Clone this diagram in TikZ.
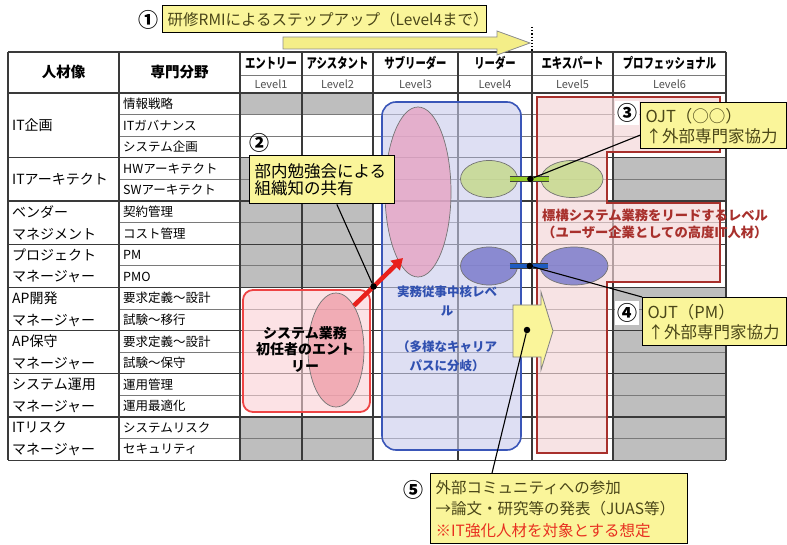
\documentclass[tikz,border=0pt]{standalone}
\usepackage{fontspec}
\newfontfamily\jp{Noto Sans CJK JP}
\newfontfamily\jpc[FakeStretch=0.74]{Noto Sans CJK JP}
\usetikzlibrary{arrows.meta,calc,shapes.geometric}
\definecolor{cellgray}{HTML}{BEBEBE}
\definecolor{gridline}{HTML}{3A3A3A}
\definecolor{thinline}{HTML}{7A7A7A}
\definecolor{noteyellow}{HTML}{FAF59A}
\definecolor{arrowyellow}{HTML}{F4EE88}
\definecolor{olivetext}{HTML}{4A4618}
\definecolor{bluebox}{HTML}{3A56B8}
\definecolor{blueboxfill}{HTML}{C9CBEC}
\definecolor{darkred}{HTML}{A8302C}
\definecolor{pinkfill}{HTML}{F3D4D6}
\definecolor{redbox}{HTML}{EE4444}
\definecolor{redboxfill}{HTML}{FAD0D4}
\definecolor{ellpink}{HTML}{E6A2C2}
\definecolor{ellsmall}{HTML}{EE9AA6}
\definecolor{ellgreen}{HTML}{C6DA8E}
\definecolor{ellblue}{HTML}{7C7CCC}
\definecolor{bargreen}{HTML}{96CC2C}
\definecolor{barblue}{HTML}{1E5CC0}
\definecolor{levelgray}{HTML}{505050}
\definecolor{bluetext}{HTML}{3050B0}
\definecolor{redtext}{HTML}{E83020}
\definecolor{arrowred}{HTML}{E8201C}
\begin{document}
\begin{tikzpicture}[x=1pt,y=-1pt,
  hdr/.style={font=\jp\bfseries\fontsize{14.5}{16}\selectfont, inner sep=0},
  lvname/.style={font=\jpc\bfseries\fontsize{14}{16}\selectfont, inner sep=0},
  lvnum/.style={font=\jp\fontsize{11}{13}\selectfont, text=levelgray, inner sep=0},
  grp/.style={font=\jp\fontsize{14}{21.6}\selectfont, anchor=west, align=left, inner sep=0},
  sublab/.style={font=\jp\fontsize{12.5}{14}\selectfont, anchor=west, inner sep=0},
  thickgrid/.style={draw=gridline, line width=1.1},
  thingrid/.style={draw=thinline, line width=0.7},
  note/.style={draw=black, line width=1.4, fill=noteyellow, anchor=north west, align=left, inner xsep=5, inner ysep=0},
  cnum/.style={font=\jp\bfseries\fontsize{20}{20}\selectfont, inner sep=0},
  ell/.style={ellipse, draw=black!55, line width=0.7, inner sep=0},
  dotc/.style={circle, fill=black, inner sep=0, minimum size=6.5},
  lead/.style={draw=black, line width=1.1},
]
\useasboundingbox (0,0) rectangle (787,545);
\fill[white] (0,0) rectangle (787,545);

% ---- gray cells
\fill[cellgray] (240,93) rectangle (373,114.6);
\fill[cellgray] (240,157.8) rectangle (373,287.4);
\fill[cellgray] (240,417) rectangle (373,460.2);
\fill[cellgray] (613,157.8) rectangle (726,201);
\fill[cellgray] (613,287.4) rectangle (726,460.2);

% ---- grid
\foreach \k in {1,2,4,6,8,10,12,14,16} \draw[thingrid] (119,{93+21.6*\k}) -- (726,{93+21.6*\k});
\draw[thingrid] (240,75) -- (726,75);
\foreach \k in {0,3,5,7,9,11,13,15,17} \draw[thickgrid] (8,{93+21.6*\k}) -- (726,{93+21.6*\k});
\draw[thickgrid] (8,52) -- (726,52);
\foreach \x in {8,119,240,302,373,458,532,613,726} \draw[thickgrid] (\x,52) -- (\x,460.2);

% ---- header
\node[hdr] (h1) at (63.5,72.5) {人材像};
\node[hdr] (h2) at (179.5,72.5) {専門分野};
\node[lvname] (l1) at (271,63.5) {エントリー};
\node[lvname] (l2) at (337.5,63.5) {アシスタント};
\node[lvname] (l3) at (415.5,63.5) {サブリーダー};
\node[lvname] (l4) at (495,63.5) {リーダー};
\node[lvname] (l5) at (572.5,63.5) {エキスパート};
\node[lvname] (l6) at (669.5,63.5) {プロフェッショナル};
\node[lvnum] (n1) at (271,84) {Level1};
\node[lvnum] (n2) at (337.5,84) {Level2};
\node[lvnum] (n3) at (415.5,84) {Level3};
\node[lvnum] (n4) at (495,84) {Level4};
\node[lvnum] (n5) at (572.5,84) {Level5};
\node[lvnum] (n6) at (669.5,84) {Level6};

% ---- group labels
\node[grp] (g1) at (12,125.4) {IT企画};
\node[grp] (g2) at (12,179.4) {ITアーキテクト};
\node[grp] (g3) at (12,222.6) {ベンダー\\マネジメント};
\node[grp] (g4) at (12,265.8) {プロジェクト\\マネージャー};
\node[grp] (g5) at (12,309) {AP開発\\マネージャー};
\node[grp] (g6) at (12,352.2) {AP保守\\マネージャー};
\node[grp] (g7) at (12,395.4) {システム運用\\マネージャー};
\node[grp] (g8) at (12,438.6) {ITリスク\\マネージャー};

% ---- sub labels
\foreach \t [count=\i] in {情報戦略,ITガバナンス,システム企画,HWアーキテクト,SWアーキテクト,契約管理,コスト管理,PM,PMO,要求定義～設計,試験～移行,要求定義～設計,試験～保守,運用管理,運用最適化,システムリスク,セキュリティ}
  \node[sublab] (s\i) at (123,{93+21.6*(\i-0.5)}) {\t};

% ---- regions
\filldraw[fill=pinkfill, fill opacity=0.65, draw=darkred, line width=1.6]
  (537,97) -- (720,97) -- (720,152) -- (607,152) -- (607,203) -- (720,203) -- (720,282) -- (607,282) -- (607,453) -- (537,453) -- cycle;
\filldraw[fill=blueboxfill, fill opacity=0.6, draw=bluebox, line width=1.6, rounded corners=14] (382,102) rectangle (521,450);
\filldraw[fill=redboxfill, fill opacity=0.6, draw=redbox, line width=1.8, rounded corners=10] (243,290) rectangle (370,412);

% ---- ellipses
\node[ell, fill=ellpink, fill opacity=0.78, minimum width=66, minimum height=170] (ebig) at (418,192) {};
\node[ell, fill=ellsmall, fill opacity=0.75, minimum width=56, minimum height=114] (esmall) at (336,350) {};
\node[ell, fill=ellgreen, fill opacity=0.85, minimum width=57, minimum height=37] (gA) at (489,179) {};
\node[ell, fill=ellgreen, fill opacity=0.85, minimum width=62, minimum height=37] (gB) at (572,179) {};
\node[ell, fill=ellblue, fill opacity=0.85, minimum width=57, minimum height=38] (bA) at (489,266) {};
\node[ell, fill=ellblue, fill opacity=0.85, minimum width=68, minimum height=38] (bB) at (574,266) {};

% ---- bars between ellipses
\draw[line width=6.5, black!75] ($(gA.east)+(-8,0)$) -- ($(gB.west)+(8,0)$);
\draw[line width=4.5, bargreen] ($(gA.east)+(-8,0)$) -- ($(gB.west)+(8,0)$);
\node[dotc] (gd) at ($(gA.east)!0.55!(gB.west)$) {};
\draw[line width=6.5, black!75] ($(bA.east)+(-8,0)$) -- ($(bB.west)+(8,0)$);
\draw[line width=4.5, barblue] ($(bA.east)+(-8,0)$) -- ($(bB.west)+(8,0)$);
\node[dotc] (bd) at ($(bA.east)!0.55!(bB.west)$) {};

% ---- region texts
\node[font=\jp\bfseries\fontsize{14}{16.5}\selectfont, align=center, inner sep=0] (tred) at (305,349) {システム業務\\初任者のエント\\リー};
\node[font=\jp\bfseries\fontsize{12.5}{19}\selectfont, text=bluetext, align=center, inner sep=0] (tblue) at (447,329) {実務従事中核レベ\\ル\\[17pt]（多様なキャリア\\パスに分岐）};
\node[font=\jp\bfseries\fontsize{13.3}{17}\selectfont, text=darkred, align=left, inner sep=0, anchor=west] (tdark) at (542,223.5) {標構システム業務をリードするレベル\\（ユーザー企業としての高度IT人材）};

% ---- red arrow
\coordinate (rt) at (esmall.68);
\coordinate (rh) at ($(ebig.center)+(-15,66)$);
\draw[line width=4.5, draw=arrowred, -{Triangle[length=11pt,width=13pt]}] (rt) -- (rh);
\node[dotc] (rd) at ($(rt)!0.4!(rh)$) {};

% ---- yellow block arrow (right)
\filldraw[fill=noteyellow, draw=black!50, line width=0.8]
  (513,305) -- (541,305) -- (541,292) -- (553,331) -- (541,370) -- (541,357) -- (513,357) -- cycle;
\node[dotc] (yd) at (527,330) {};

% ---- top arrow
\filldraw[fill=arrowyellow, draw=black!45, line width=0.8]
  (283,37) -- (497,37) -- (497,31) -- (530,43) -- (497,55) -- (497,49) -- (283,49) -- cycle;
\coordinate (dt) at (532,27);
\coordinate (db) at (532,52);
\draw[black, line width=1.2, dotted] (dt) -- (db);

% ---- callout boxes
\node[note, text width=314, minimum height=27, font=\jp\fontsize{15.5}{16}\selectfont, text=olivetext] (b1) at (162,5) {研修RMIによるステップアップ（Level4まで）};
\node[cnum] (c1) at (148,20) {①};

\node[note, text width=135, minimum height=48, font=\jp\fontsize{16.5}{17.5}\selectfont] (b2) at (249,155) {部内勉強会による\\組織知の共有};
\node[cnum] (c2) at (259,143) {②};

\node[note, text width=136, minimum height=46, font=\jp\fontsize{16.5}{20}\selectfont, text=olivetext] (b3) at (640,102) {OJT（○○）\\↑外部専門家協力};
\node[cnum, fill=white, minimum size=24] (c3) at (627,113) {③};

\node[note, text width=134, minimum height=48, font=\jp\fontsize{16.5}{20}\selectfont, text=olivetext] (b4) at (642,297) {OJT（PM）\\↑外部専門家協力};
\node[cnum, fill=white, minimum size=24] (c4) at (627,313) {④};

\node[note, text width=247, minimum height=70, font=\jp\fontsize{15.5}{21.5}\selectfont, text=olivetext] (b5) at (430,473) {外部コミュニティへの参加\\→論文・研究等の発表（JUAS等）\\\textcolor{redtext}{※IT強化人材を対象とする想定}};
\node[cnum] (c5) at (413,490) {⑤};

% ---- leader lines
\draw[lead] ($(b2.south west)!0.6!(b2.south east)$) -- (rd);
\draw[lead] (gd) -- ($(b3.south west)!0.3!(b3.north west)$);
\draw[lead] (bd) -- (b4.north west);
\draw[lead] (yd) -- ($(b5.north west)!0.24!(b5.north east)$);
\end{tikzpicture}
\end{document}
